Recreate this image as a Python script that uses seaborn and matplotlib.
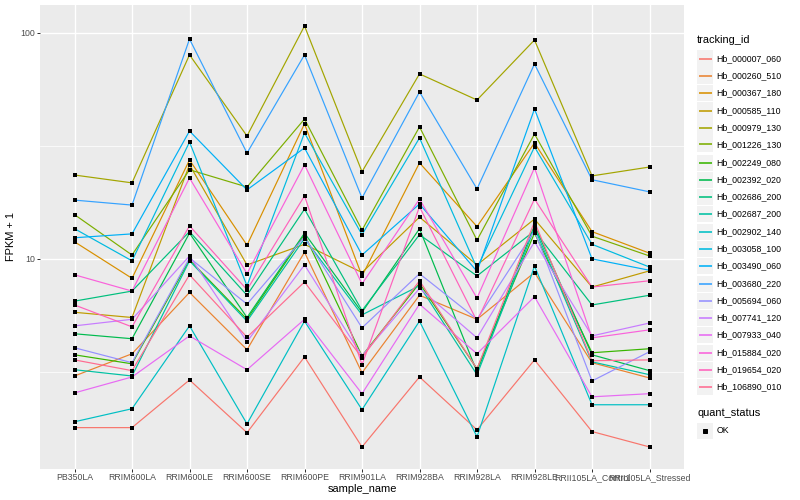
import matplotlib
matplotlib.use("Agg")
import matplotlib.pyplot as plt
from matplotlib.patches import Rectangle
from matplotlib.lines import Line2D
from matplotlib.ticker import FixedLocator, NullFormatter
import numpy as np
import pandas as pd
import seaborn as sns

# sample order on the x axis (factor order, not alphabetical)
samples = ['PB350LA', 'RRIM600LA', 'RRIM600LE', 'RRIM600SE', 'RRIM600PE', 'RRIM901LA',
           'RRIM928BA', 'RRIM928LA', 'RRIM928LE', 'RRII105LA_Control', 'RRII105LA_Stressed']

tracking_ids = ['Hb_000007_060', 'Hb_000260_510', 'Hb_000367_180', 'Hb_000585_110',
                'Hb_000979_130', 'Hb_001226_130', 'Hb_002249_080', 'Hb_002392_020',
                'Hb_002686_200', 'Hb_002687_200', 'Hb_002902_140', 'Hb_003058_100',
                'Hb_003490_060', 'Hb_003680_220', 'Hb_005694_060', 'Hb_007741_120',
                'Hb_007933_040', 'Hb_015884_020', 'Hb_019654_020', 'Hb_106890_010']

# FPKM + 1 per gene, one value per sample
hb_000007_060 = [1.79, 1.79, 2.91, 1.70, 3.68, 1.47, 3.00, 1.75, 3.57, 1.72, 1.47]
hb_000260_510 = [3.03, 3.80, 7.1, 3.96, 10.7, 3.13, 6.9, 5.4, 8.7, 3.47, 2.97]
hb_000367_180 = [11.9, 8.2, 27.4, 11.5, 39.6, 8.4, 26.6, 13.9, 32.6, 13.2, 10.6]
hb_000585_110 = [5.8, 5.5, 26.1, 9.4, 11.6, 8.7, 15.3, 9.4, 15.0, 7.5, 8.85]
hb_000979_130 = [23.5, 21.7, 80.0, 35.0, 107.4, 24.3, 65.9, 50.5, 93.1, 23.3, 25.5]
hb_001226_130 = [15.7, 10.4, 24.8, 20.8, 41.6, 13.4, 38.4, 12.1, 35.7, 12.6, 10.3]
hb_002249_080 = [3.76, 3.43, 9.9, 5.4, 12.8, 3.72, 7.8, 3.26, 13.0, 3.84, 4.0]
hb_002392_020 = [4.66, 4.43, 13.0, 5.5, 13.0, 5.8, 13.6, 3.16, 14.1, 3.76, 3.2]
hb_002686_200 = [6.5, 7.2, 13.2, 6.9, 16.6, 5.9, 12.8, 8.4, 13.3, 6.25, 6.9]
hb_002687_200 = [3.23, 3.03, 9.8, 5.3, 12.3, 5.65, 7.6, 3.07, 13.7, 3.5, 3.07]
hb_002902_140 = [1.90, 2.17, 5.05, 1.86, 5.3, 2.15, 5.3, 1.63, 9.3, 2.26, 2.26]
hb_003058_100 = [13.6, 9.8, 32.9, 7.6, 36.1, 12.8, 34.3, 9.1, 31.3, 11.6, 9.2]
hb_003490_060 = [12.4, 12.9, 36.8, 20.2, 31.0, 10.4, 17.5, 8.8, 46.1, 10.0, 8.9]
hb_003680_220 = [18.2, 17.3, 94.0, 29.4, 80.0, 18.6, 54.8, 20.4, 72.9, 22.4, 19.8]
hb_005694_060 = [4.04, 3.47, 10.1, 6.3, 12.5, 4.95, 8.6, 5.4, 13.3, 2.88, 3.88]
hb_007741_120 = [5.05, 5.4, 10.3, 4.3, 9.4, 3.72, 7.4, 4.47, 11.9, 4.56, 5.2]
hb_007933_040 = [2.55, 3.00, 4.56, 3.23, 5.4, 2.53, 6.3, 3.8, 6.8, 2.45, 2.53]
hb_015884_020 = [8.5, 7.2, 22.8, 8.6, 26.1, 7.75, 18.4, 6.7, 25.3, 4.47, 4.85]
hb_019654_020 = [6.25, 5.0, 14.0, 7.3, 19.0, 3.4, 17.0, 5.3, 18.4, 7.5, 8.0]
hb_106890_010 = [3.57, 3.2, 8.5, 4.5, 7.9, 3.65, 8.0, 3.26, 14.6, 3.54, 3.57]

series = [hb_000007_060, hb_000260_510, hb_000367_180, hb_000585_110, hb_000979_130,
          hb_001226_130, hb_002249_080, hb_002392_020, hb_002686_200, hb_002687_200,
          hb_002902_140, hb_003058_100, hb_003490_060, hb_003680_220, hb_005694_060,
          hb_007741_120, hb_007933_040, hb_015884_020, hb_019654_020, hb_106890_010]

# ggplot2 default hue palette for 20 levels
colors = ["#F8766D", "#EA8331", "#D89000", "#C09B00", "#A3A500", "#7CAE00", "#39B600",
          "#00BB4E", "#00BF7D", "#00C1A3", "#00BFC4", "#00BAE0", "#00B0F6", "#35A2FF",
          "#9590FF", "#C77CFF", "#E76BF3", "#FA62DB", "#FF62BC", "#FF6C91"]

rows = []
for tid, vals in zip(tracking_ids, series):
    for i, (s, v) in enumerate(zip(samples, vals)):
        rows.append({'tracking_id': tid, 'sample_name': s, 'pos': i, 'fpkm': v, 'quant_status': 'OK'})
df = pd.DataFrame(rows)

plt.rcParams['font.family'] = ['Liberation Sans', 'DejaVu Sans']

W, H = 800, 500
fig = plt.figure(figsize=(W / 72, H / 72), dpi=72)
ax = fig.add_axes([40 / W, 1 - 468.5 / H, (684 - 40) / W, (468.5 - 5) / H])
ax.set_facecolor('#EBEBEB')

sns.lineplot(data=df, x='pos', y='fpkm', hue='tracking_id', hue_order=tracking_ids,
             palette=colors, estimator=None, linewidth=1.2, legend=False, ax=ax, zorder=2)
sns.scatterplot(data=df, x='pos', y='fpkm', color='black', marker='s', s=14,
                linewidth=0, legend=False, ax=ax, zorder=3)

ax.set_yscale('log')
ax.set_ylim(1.18, 133)
ax.set_xlim(-0.6, len(samples) - 0.4)
ax.yaxis.set_major_locator(FixedLocator([10, 100]))
ax.set_yticklabels(['10', '100'])
ax.yaxis.set_minor_locator(FixedLocator([10 ** 0.5, 10 ** 1.5]))
ax.yaxis.set_minor_formatter(NullFormatter())
ax.set_xticks(range(len(samples)))
ax.set_xticklabels(samples)

ax.grid(True, which='major', color='white', linewidth=1.4)
ax.grid(True, which='minor', axis='y', color='white', linewidth=0.7)
ax.set_axisbelow(True)
for sp in ax.spines.values():
    sp.set_visible(False)
ax.tick_params(which='major', length=2.75, width=1.0, color='#333333',
               labelsize=8.8, labelcolor='#4D4D4D', pad=2.2)
ax.tick_params(which='minor', length=0)

ax.set_xlabel('sample_name', fontsize=11, color='black', labelpad=2)
ax.set_ylabel('FPKM + 1', fontsize=11, color='black', labelpad=4)


# ggplot-like legends on the right
def fx(px):
    return px / W


def fy(py):
    return 1 - py / H


def key_box(yc):
    fig.patches.append(Rectangle((fx(697), fy(yc + 8)), 16 / W, 16 / H,
                                 transform=fig.transFigure, facecolor='#F2F2F2',
                                 edgecolor='none', zorder=1))


fig.text(fx(697), fy(40), 'tracking_id', fontsize=11, va='center', ha='left')
for i, (tid, c) in enumerate(zip(tracking_ids, colors)):
    yc = round(57.7 + i * 17.3) + 0.5
    key_box(yc)
    fig.lines.append(Line2D([fx(698.5), fx(711.5)], [fy(yc), fy(yc)], transform=fig.transFigure,
                            color=c, linewidth=1.6, solid_capstyle='butt', zorder=3))
    fig.text(fx(716.5), fy(yc), tid, fontsize=8.8, va='center', ha='left')

fig.text(fx(697), fy(413), 'quant_status', fontsize=11, va='center', ha='left')
yc = 430.5
key_box(yc)
fig.lines.append(Line2D([fx(705)], [fy(yc)], transform=fig.transFigure, color='black',
                        marker='s', markersize=3.6, linestyle='none', zorder=3))
fig.text(fx(716.5), fy(yc), 'OK', fontsize=8.8, va='center', ha='left')

fig.savefig('out.png', dpi=72)
